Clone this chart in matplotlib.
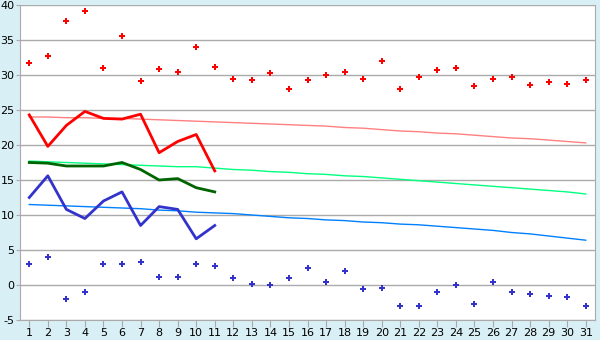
import numpy as np
import matplotlib
matplotlib.use("Agg")
import matplotlib.pyplot as plt

plt.rcParams['axes.unicode_minus'] = False

days = list(range(1, 32))

# daily extremes (markers)
max_pts = [31.7, 32.7, 37.7, 39.1, 31.0, 35.6, 29.2, 30.9, 30.4, 34.0, 31.1,
           29.4, 29.3, 30.3, 28.0, 29.3, 30.0, 30.4, 29.4, 32.0, 28.0,
           29.7, 30.7, 31.0, 28.4, 29.4, 29.7, 28.6, 29.0, 28.7, 29.3]
min_pts = [3.0, 4.0, -2.0, -1.0, 3.0, 3.0, 3.3, 1.1, 1.1, 3.0, 2.7,
           1.0, 0.1, 0.0, 1.0, 2.4, 0.4, 2.0, -0.6, -0.4, -3.0,
           -3.0, -1.0, 0.0, -2.7, 0.4, -1.0, -1.3, -1.6, -1.7, -3.0]

# observed so far (days 1-11)
obs_days = list(range(1, 12))
obs_max = [24.3, 19.8, 22.8, 24.8, 23.8, 23.7, 24.4, 18.9, 20.5, 21.5, 16.3]
obs_mean = [17.5, 17.4, 17.0, 17.0, 17.0, 17.5, 16.5, 15.0, 15.2, 13.9, 13.3]
obs_min = [12.5, 15.6, 10.8, 9.5, 12.0, 13.3, 8.5, 11.2, 10.8, 6.6, 8.5]

# normals
norm_max = [24.0, 24.0, 23.9, 23.9, 23.8, 23.8, 23.7, 23.6, 23.5, 23.4, 23.3,
            23.2, 23.1, 23.0, 22.9, 22.8, 22.7, 22.5, 22.4, 22.2, 22.0,
            21.9, 21.7, 21.6, 21.4, 21.2, 21.0, 20.9, 20.7, 20.5, 20.3]
norm_mean = [17.7, 17.6, 17.5, 17.4, 17.3, 17.2, 17.1, 17.0, 16.9, 16.9, 16.7,
             16.5, 16.4, 16.2, 16.1, 15.9, 15.8, 15.6, 15.5, 15.3, 15.1,
             14.9, 14.7, 14.5, 14.3, 14.1, 13.9, 13.7, 13.5, 13.3, 13.0]
norm_min = [11.5, 11.4, 11.3, 11.2, 11.1, 11.0, 10.9, 10.7, 10.6, 10.4, 10.3,
            10.2, 10.0, 9.8, 9.6, 9.5, 9.3, 9.2, 9.0, 8.9, 8.7,
            8.6, 8.4, 8.2, 8.0, 7.8, 7.5, 7.3, 7.0, 6.7, 6.4]

fig = plt.figure(figsize=(6, 3.4), dpi=100, facecolor='#D9EFF6')
ax = fig.add_axes([20/600, 20/340, 575/600, 315/340])
ax.set_facecolor('white')

ax.plot(days, norm_max, color='#FF8080', lw=1)
ax.plot(days, norm_mean, color='#00FF80', lw=1)
ax.plot(days, norm_min, color='#0080FF', lw=1)

ax.plot(obs_days, obs_max, color='#FF0000', lw=2)
ax.plot(obs_days, obs_mean, color='#006400', lw=2)
ax.plot(obs_days, obs_min, color='#3333CC', lw=2)

ax.plot(days, max_pts, 'P', color='#FF0000', ms=5, mew=0)
ax.plot(days, min_pts, 'P', color='#3333CC', ms=5, mew=0)

ax.set_xlim(0.5, 31.5)
ax.set_ylim(-5, 40)
ax.set_xticks(days)
ax.set_yticks(np.arange(-5, 41, 5))
ax.grid(axis='y', color='#AAAAAA', lw=1)
ax.set_axisbelow(True)
for s in ['left', 'right', 'bottom', 'top']:
    ax.spines[s].set_color('#AAAAAA')
ax.spines['top'].set_visible(False)
ax.tick_params(axis='x', colors='#AAAAAA', labelcolor='black', labelsize=8,
               length=5, pad=1, direction='out')
ax.tick_params(axis='y', colors='#AAAAAA', labelcolor='black', labelsize=8,
               length=3, pad=1, direction='out')

fig.savefig('out.png', dpi=100, facecolor=fig.get_facecolor())
